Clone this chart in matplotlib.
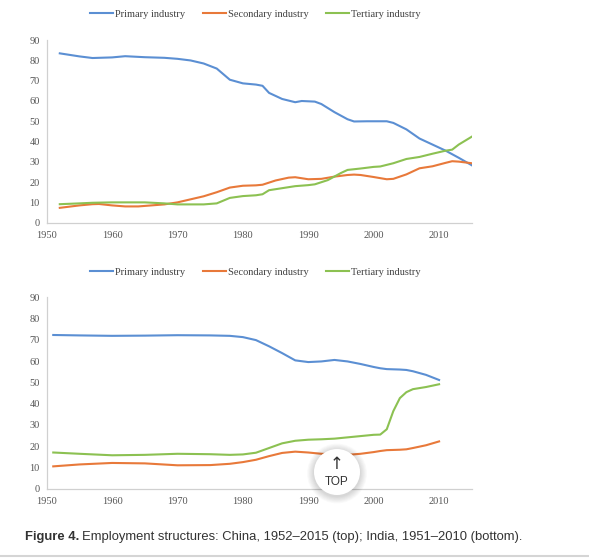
import matplotlib
matplotlib.use("Agg")
import matplotlib.pyplot as plt
from matplotlib.patches import Circle

# China, 1952-2015 (top panel)
cn_years = [1952, 1955, 1957, 1960, 1962, 1965, 1968, 1970, 1972, 1974, 1976,
            1978, 1980, 1982, 1983, 1984, 1986, 1988, 1989, 1991, 1992, 1994,
            1996, 1997, 1999, 2002, 2003, 2005, 2007, 2009, 2011, 2013, 2015]
cn_primary = [83.5, 82.0, 81.2, 81.5, 82.1, 81.6, 81.3, 80.8, 80.0, 78.5, 76.0,
              70.5, 68.7, 68.1, 67.5, 64.0, 61.0, 59.4, 60.0, 59.7, 58.5, 54.5,
              51.0, 49.9, 50.0, 50.0, 49.2, 46.0, 41.5, 38.5, 35.5, 32.0, 28.3]
cn_secondary_years = [1952, 1955, 1957, 1958, 1960, 1962, 1964, 1966, 1968, 1970,
                      1972, 1974, 1976, 1978, 1980, 1982, 1983, 1985, 1987, 1988,
                      1990, 1992, 1994, 1996, 1997, 1998, 2000, 2002, 2003, 2005,
                      2007, 2009, 2011, 2012, 2013, 2015]
cn_secondary = [7.3, 8.5, 9.1, 9.2, 8.5, 8.0, 8.0, 8.5, 9.0, 10.0,
                11.5, 13.0, 15.0, 17.3, 18.2, 18.4, 18.7, 20.8, 22.2, 22.4,
                21.4, 21.6, 22.7, 23.5, 23.7, 23.5, 22.5, 21.4, 21.6, 23.8,
                26.8, 27.8, 29.5, 30.3, 30.1, 29.3]
cn_tertiary_years = [1952, 1955, 1957, 1960, 1965, 1968, 1970, 1972, 1974, 1976,
                     1978, 1980, 1982, 1983, 1984, 1986, 1988, 1990, 1991, 1993,
                     1995, 1996, 1998, 2000, 2001, 2003, 2005, 2007, 2009, 2011,
                     2012, 2013, 2015]
cn_tertiary = [9.1, 9.5, 9.8, 10.0, 10.0, 9.5, 9.0, 9.0, 9.0, 9.5,
               12.2, 13.1, 13.5, 14.0, 16.0, 17.0, 18.0, 18.5, 18.9, 21.0,
               24.5, 26.0, 26.7, 27.5, 27.7, 29.3, 31.4, 32.4, 34.0, 35.5,
               36.0, 38.5, 42.4]

# India, 1951-2010 (bottom panel)
in_years = [1951, 1955, 1960, 1965, 1970, 1975, 1978, 1980, 1982, 1984, 1986,
            1988, 1990, 1992, 1994, 1996, 1998, 2000, 2001, 2002, 2003, 2004,
            2005, 2006, 2008, 2010]
in_primary = [72.2, 72.0, 71.8, 71.9, 72.1, 72.0, 71.8, 71.2, 69.8, 66.9, 63.7,
              60.3, 59.5, 59.8, 60.5, 59.8, 58.6, 57.2, 56.6, 56.2, 56.1, 56.0,
              55.8, 55.2, 53.5, 51.1]
in_secondary = [10.6, 11.5, 12.2, 12.0, 11.1, 11.2, 11.8, 12.6, 13.7, 15.4, 16.9,
                17.5, 17.1, 16.5, 16.2, 16.0, 16.5, 17.3, 17.8, 18.2, 18.3, 18.4,
                18.6, 19.2, 20.5, 22.3]
in_tertiary = [17.1, 16.5, 15.8, 16.0, 16.5, 16.3, 16.0, 16.2, 17.0, 19.2, 21.4,
               22.6, 23.1, 23.3, 23.6, 24.2, 24.8, 25.4, 25.5, 28.0, 36.5, 42.6,
               45.4, 46.8, 47.8, 49.1]

series_names = ["Primary industry", "Secondary industry", "Tertiary industry"]
colors = ["#5B8FD3", "#E8793A", "#8CC152"]
y_ticks = [0, 10, 20, 30, 40, 50, 60, 70, 80, 90]
x_ticks = [1950, 1960, 1970, 1980, 1990, 2000, 2010]

plt.rcParams["font.family"] = ["Liberation Serif", "DejaVu Serif"]

fig = plt.figure(figsize=(5.89, 5.58), dpi=100)

ax_top = fig.add_axes([0.0793, 0.601, 0.7217, 0.327])
ax_bot = fig.add_axes([0.0793, 0.1237, 0.7217, 0.344])


def style_axes(ax, legend_y):
    ax.set_xlim(1950, 2015)
    ax.set_ylim(0, 90)
    ax.set_xticks(x_ticks)
    ax.set_yticks(y_ticks)
    for side in ["top", "right"]:
        ax.spines[side].set_visible(False)
    for side in ["left", "bottom"]:
        ax.spines[side].set_color("#D0D0D0")
        ax.spines[side].set_linewidth(0.9)
    ax.tick_params(length=0, labelsize=7.5, colors="#555555")
    ax.tick_params(axis="x", pad=6)
    ax.tick_params(axis="y", pad=5)
    ax.legend(
        loc="center",
        bbox_to_anchor=(0.434, legend_y),
        bbox_transform=fig.transFigure,
        ncol=3,
        frameon=False,
        fontsize=7.5,
        handlelength=2.2,
        handletextpad=0.2,
        columnspacing=1.7,
        labelcolor="#404040",
    )


ax_top.plot(cn_years, cn_primary, color=colors[0], lw=1.5, label=series_names[0])
ax_top.plot(cn_secondary_years, cn_secondary, color=colors[1], lw=1.5, label=series_names[1])
ax_top.plot(cn_tertiary_years, cn_tertiary, color=colors[2], lw=1.5, label=series_names[2])
style_axes(ax_top, 0.975)

ax_bot.plot(in_years, in_primary, color=colors[0], lw=1.5, label=series_names[0])
ax_bot.plot(in_years, in_secondary, color=colors[1], lw=1.5, label=series_names[1])
ax_bot.plot(in_years, in_tertiary, color=colors[2], lw=1.5, label=series_names[2])
style_axes(ax_bot, 0.5125)

# overlay in pixel units for the page decorations
over = fig.add_axes([0, 0, 1, 1], zorder=10)
over.set_xlim(0, 589)
over.set_ylim(558, 0)
over.axis("off")
over.patch.set_alpha(0)

# "TOP" button with a soft shadow
cx, cy, r = 337, 472, 23
for i in range(10, 0, -1):
    over.add_patch(Circle((cx, cy + 1.5), r + i * 0.7, color="black", alpha=0.014, lw=0))
over.add_patch(Circle((cx, cy), r, facecolor="white", edgecolor="none"))
over.text(cx, cy - 8, "\u2191", ha="center", va="center", fontsize=12,
          color="#333333", family="DejaVu Sans")
over.text(cx, cy + 10, "TOP", ha="center", va="center", fontsize=8.5,
          color="#333333", family="Liberation Sans")

# caption
cap1 = over.text(25, 537, "Figure 4.", ha="left", va="center", fontsize=9.4,
                 fontweight="bold", color="#333333", family="Liberation Sans")
fig.canvas.draw()
bb = cap1.get_window_extent(renderer=fig.canvas.get_renderer())
over.text(25 + bb.width + 3, 537,
          "Employment structures: China, 1952\u20132015 (top); India, 1951\u20132010 (bottom).",
          ha="left", va="center", fontsize=9.4, color="#333333", family="Liberation Sans")
over.plot([0, 589], [555.5, 555.5], color="#D5D5D5", lw=1.5)

fig.savefig("out.png", dpi=100)
